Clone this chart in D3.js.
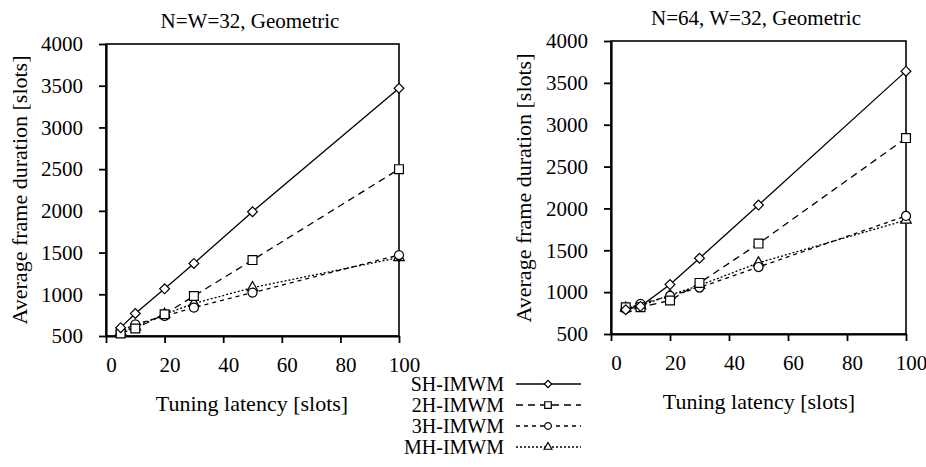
<!DOCTYPE html>
<html>
<head>
<meta charset="utf-8">
<script src="https://cdn.jsdelivr.net/npm/d3@7"></script>
<style>
body { margin: 0; background: #fff; }
text { font-family: "Liberation Serif", "Times New Roman", serif; fill: #000; }
</style>
</head>
<body>
<script>
//Width and height
var w = 926;
var h = 467;

//Data
var latency = [5, 10, 20, 30, 50, 100];
var seriesNames = ["SH-IMWM", "2H-IMWM", "3H-IMWM", "MH-IMWM"];

//N=W=32
var n32SH = [600, 770, 1065, 1370, 1990, 3470];
var n32H2 = [530, 590, 760, 980, 1410, 2500];
var n32H3 = [560, 640, 740, 840, 1020, 1470];
var n32MH = [550, 610, 760, 890, 1080, 1440];

//N=64, W=32
var n64SH = [790, 830, 1090, 1405, 2040, 3640];
var n64H2 = [820, 820, 900, 1110, 1580, 2840];
var n64H3 = [800, 860, 955, 1055, 1300, 1910];
var n64MH = [810, 835, 965, 1080, 1350, 1860];

var xTicks = [0, 20, 40, 60, 80, 100];
var yTicks = [500, 1000, 1500, 2000, 2500, 3000, 3500, 4000];

//Line and marker style per series
var dashes = [null, "7,5", "4,4", "2,2"];
var symbols = [d3.symbolSquare, d3.symbolSquare, d3.symbolCircle, d3.symbolTriangle];
var symbolSizes = [48, 78, 64, 48];
var symbolRotate = [45, 0, 0, 0];

var panels = [
    { title: "N=W=32, Geometric", series: [n32SH, n32H2, n32H3, n32MH],
      x0: 106, x1: 399, y0: 44, y1: 336, titleX: 250, titleY: 28,
      yLabX: 27, yLabY: 190, xLabX: 252, xLabY: 411 },
    { title: "N=64, W=32, Geometric", series: [n64SH, n64H2, n64H3, n64MH],
      x0: 611, x1: 906, y0: 41, y1: 334, titleX: 756, titleY: 25,
      yLabX: 531, yLabY: 188, xLabX: 759, xLabY: 409 }
];

//Create SVG element
var svg = d3.select("body")
    .append("svg")
    .attr("width", w)
    .attr("height", h);

function marker(sel, i, scale) {
    sel.attr("d", d3.symbol().type(symbols[i]).size(symbolSizes[i] * scale))
        .attr("fill", "#fff")
        .attr("stroke", "#000")
        .attr("stroke-width", 1.2);
}

panels.forEach(function(p) {
    var xScale = d3.scaleLinear().domain([0, 100]).range([p.x0, p.x1]);
    var yScale = d3.scaleLinear().domain([500, 4000]).range([p.y1, p.y0]);

    //Frame
    svg.append("rect")
        .attr("x", p.x0).attr("y", p.y0)
        .attr("width", p.x1 - p.x0).attr("height", p.y1 - p.y0)
        .attr("fill", "none")
        .attr("stroke", "#000")
        .attr("stroke-width", 1.6);

    //X axis
    var gx = svg.append("g")
        .attr("transform", "translate(0," + p.y1 + ")")
        .call(d3.axisBottom(xScale).tickValues(xTicks).tickFormat(d3.format("d"))
            .tickSizeInner(7).tickSizeOuter(0).tickPadding(14));

    //Y axis
    var gy = svg.append("g")
        .attr("transform", "translate(" + p.x0 + ",0)")
        .call(d3.axisLeft(yScale).tickValues(yTicks).tickFormat(d3.format("d"))
            .tickSizeInner(7).tickSizeOuter(0).tickPadding(16));

    [gx, gy].forEach(function(g) {
        g.select(".domain").attr("stroke-width", 2.2);
        g.selectAll(".tick line").attr("stroke-width", 1.8);
        g.selectAll(".tick text")
            .style("font-family", "'Liberation Serif', serif")
            .style("font-size", "21px");
    });
    gx.selectAll(".tick text").attr("dx", 5);

    //Lines, back to front
    var line = d3.line()
        .x(function(d, i) { return xScale(latency[i]); })
        .y(function(d) { return yScale(d); });

    for (var i = 3; i >= 0; i--) {
        svg.append("path")
            .datum(p.series[i])
            .attr("d", line)
            .attr("fill", "none")
            .attr("stroke", "#000")
            .attr("stroke-width", 1.3)
            .attr("stroke-dasharray", dashes[i]);
    }

    //Markers
    for (var j = 3; j >= 0; j--) {
        svg.append("g").selectAll("path")
            .data(p.series[j])
            .enter()
            .append("path")
            .attr("transform", function(d, k) {
                return "translate(" + xScale(latency[k]) + "," + yScale(d) + ") rotate(" + symbolRotate[j] + ")";
            })
            .call(marker, j, 1);
    }

    //Titles
    svg.append("text")
        .attr("x", p.titleX).attr("y", p.titleY)
        .attr("text-anchor", "middle")
        .style("font-size", "21px")
        .text(p.title);

    svg.append("text")
        .attr("x", p.xLabX).attr("y", p.xLabY)
        .attr("text-anchor", "middle")
        .style("font-size", "22px")
        .text("Tuning latency [slots]");

    svg.append("text")
        .attr("transform", "translate(" + p.yLabX + "," + p.yLabY + ") rotate(-90)")
        .attr("text-anchor", "middle")
        .style("font-size", "22px")
        .text("Average frame duration [slots]");
});

//Legend
var legend = svg.append("g").selectAll("g")
    .data(seriesNames)
    .enter()
    .append("g")
    .attr("transform", function(d, i) { return "translate(0," + (391 + i * 21) + ")"; });

legend.append("text")
    .attr("x", 504)
    .attr("text-anchor", "end")
    .style("font-size", "20px")
    .text(function(d) { return d; });

legend.append("line")
    .attr("x1", 516).attr("x2", 581)
    .attr("y1", -7).attr("y2", -7)
    .attr("stroke", "#000")
    .attr("stroke-width", 1.3)
    .attr("stroke-dasharray", function(d, i) { return dashes[i]; });

legend.each(function(d, i) {
    d3.select(this).append("path")
        .attr("transform", "translate(548,-7) rotate(" + symbolRotate[i] + ")")
        .call(marker, i, 0.55);
});
</script>
</body>
</html>
